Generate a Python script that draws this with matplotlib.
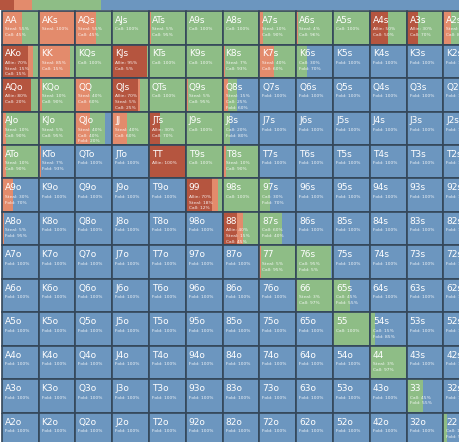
import matplotlib
matplotlib.use("Agg")
import matplotlib.pyplot as plt
from matplotlib.patches import Rectangle

ranks = list("AKQJT98765432")
# per-hand action frequencies in %: (allin, steal, call); fold = rest
mix = {
    "AA": (0, 55, 45), "AKs": (0, 100, 0), "AQs": (0, 55, 45), "AJs": (0, 0, 100),
    "ATs": (0, 5, 95), "A9s": (0, 0, 100), "A8s": (0, 0, 100), "A7s": (0, 10, 90),
    "A6s": (0, 4, 96), "A5s": (0, 0, 100), "A4s": (50, 0, 50), "A3s": (30, 0, 70),
    "A2s": (0, 20, 80),
    "AKo": (70, 15, 15), "KK": (0, 85, 15), "KQs": (0, 0, 100), "KJs": (95, 0, 5),
    "KTs": (0, 0, 100), "K9s": (0, 0, 100), "K8s": (0, 7, 93), "K7s": (0, 40, 60),
    "K6s": (0, 0, 30),
    "AQo": (80, 0, 20), "KQo": (0, 10, 90), "QQ": (0, 40, 60), "QJs": (70, 5, 25),
    "QTs": (0, 0, 100), "Q9s": (0, 5, 95), "Q8s": (0, 15, 25),
    "AJo": (0, 10, 90), "KJo": (0, 5, 95), "QJo": (0, 40, 40), "JJ": (0, 40, 60),
    "JTs": (30, 0, 70), "J9s": (0, 0, 100), "J8s": (0, 0, 20),
    "ATo": (0, 10, 90), "KTo": (0, 7, 0), "TT": (100, 0, 0), "T9s": (0, 0, 100),
    "T8s": (0, 10, 90),
    "A9o": (0, 30, 0), "99": (70, 18, 12), "98s": (0, 0, 100), "97s": (0, 0, 30),
    "A8o": (0, 5, 0), "88": (40, 15, 45), "87s": (0, 0, 60),
    "77": (0, 5, 95), "76s": (0, 0, 95),
    "66": (0, 3, 97), "65s": (0, 0, 45),
    "55": (0, 0, 100), "54s": (0, 0, 15),
    "44": (0, 3, 97),
    "33": (0, 0, 45),
    "22": (0, 0, 10),
}
strip = [0.03, 0.04, 0.15, 0.78]  # overall allin / steal / call / fold share
names = ["Allin", "Steal", "Call", "Fold"]
colors = ["#b5553f", "#e38b6c", "#8ebd86", "#6c96bf"]

fig = plt.figure(figsize=(4.6, 4.42), dpi=100)
ax = fig.add_axes([0, 0, 1, 1])
ax.set_xlim(-0.05, 12.45)
ax.set_ylim(12.87, -0.33)
ax.axis("off")

# summary strip
x0 = -0.05
W = 12.5
for f, c in zip(strip, colors):
    ax.add_patch(Rectangle((x0, -0.33), f * W, 0.3, color=c, lw=0))
    x0 += f * W

for i, r1 in enumerate(ranks):
    for j, r2 in enumerate(ranks):
        if i == j:
            h = r1 + r2
        elif j > i:
            h = r1 + r2 + "s"
        else:
            h = r2 + r1 + "o"
        a, s, c = mix.get(h, (0, 0, 0))
        vals = [a, s, c, 100 - a - s - c]
        x = j
        for v, col in zip(vals, colors):
            if v > 0:
                ax.add_patch(Rectangle((x, i), v / 100, 1, color=col, lw=0))
                x += v / 100
        ax.add_patch(Rectangle((j, i), 1, 1, fill=False, ec="#34475a", lw=1.2))
        ax.text(j + 0.08, i + 0.28, h, color="white", fontsize=6.5, va="center", ha="left")
        lines = [f"{n}: {v}%" for n, v in zip(names, vals) if v > 0]
        for k, t in enumerate(lines):
            ax.text(j + 0.08, i + 0.55 + k * 0.17, t, color="white", fontsize=3.2,
                    va="center", ha="left", alpha=0.9)

fig.savefig("out.png", dpi=100)
